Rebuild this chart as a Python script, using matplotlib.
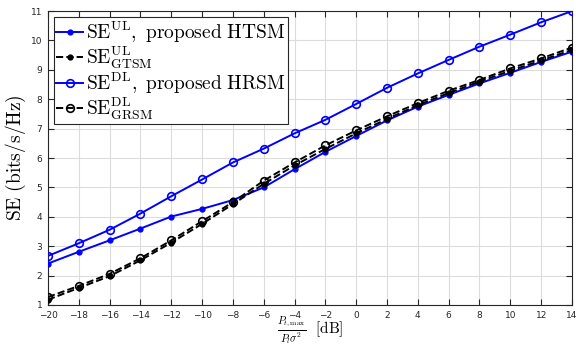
import matplotlib
matplotlib.use("Agg")
import matplotlib.pyplot as plt

x_db = [-20, -18, -16, -14, -12, -10, -8, -6, -4, -2, 0, 2, 4, 6, 8, 10, 12, 14]
se_ul_htsm = [2.41, 2.81, 3.20, 3.60, 4.01, 4.27, 4.57, 5.00, 5.62, 6.21, 6.75, 7.28, 7.75, 8.15, 8.54, 8.90, 9.27, 9.62]
se_ul_gtsm = [1.18, 1.58, 1.98, 2.52, 3.12, 3.76, 4.43, 5.12, 5.75, 6.31, 6.84, 7.33, 7.80, 8.21, 8.60, 8.97, 9.32, 9.68]
se_dl_hrsm = [2.67, 3.10, 3.56, 4.11, 4.70, 5.27, 5.85, 6.32, 6.84, 7.30, 7.84, 8.39, 8.88, 9.34, 9.79, 10.20, 10.62, 11.0]
se_dl_grsm = [1.27, 1.65, 2.06, 2.59, 3.20, 3.85, 4.50, 5.23, 5.85, 6.43, 6.94, 7.42, 7.87, 8.29, 8.66, 9.05, 9.39, 9.76]

labels = [r'$\mathrm{SE}^{\mathrm{UL}}\mathrm{,\ proposed\ HTSM}$',
          r'$\mathrm{SE}^{\mathrm{UL}}_{\mathrm{GTSM}}$',
          r'$\mathrm{SE}^{\mathrm{DL}}\mathrm{,\ proposed\ HRSM}$',
          r'$\mathrm{SE}^{\mathrm{DL}}_{\mathrm{GRSM}}$']

plt.rcParams['mathtext.fontset'] = 'cm'

fig = plt.figure(figsize=(5.76, 3.48), dpi=100)
ax = fig.add_axes([0.0833, 0.1236, 0.9097, 0.8445])

ax.plot(x_db, se_ul_htsm, '-', color='#0000ff', lw=1.4, marker='o', ms=3.5, mfc='#0000ff', mec='#0000ff', label=labels[0], zorder=3)
ax.plot(x_db, se_ul_gtsm, '--', color='black', lw=1.4, marker='o', ms=3.5, mfc='black', mec='black', label=labels[1], zorder=3)
ax.plot(x_db, se_dl_hrsm, '-', color='#0000ff', lw=1.4, marker='o', ms=5.5, mfc='none', mec='#0000ff', mew=1.2, label=labels[2], zorder=3)
ax.plot(x_db, se_dl_grsm, '--', color='black', lw=1.4, marker='o', ms=5.5, mfc='none', mec='black', mew=1.2, label=labels[3], zorder=3)

ax.set_xlim(-20, 14)
ax.set_ylim(1, 11)
ax.set_xticks(list(range(-20, 15, 2)))
ax.set_yticks(list(range(1, 12)))
ax.grid(True, color='#dcdcdc', lw=0.8)
ax.set_axisbelow(True)
ax.tick_params(direction='in', top=True, right=True, labelsize=6.5, colors='#262626', length=4, width=0.8, pad=4)
for s in ax.spines.values():
    s.set_color('#262626')
    s.set_linewidth(0.8)

ax.set_ylabel(r'$\mathrm{SE\ (bits/s/Hz)}$', fontsize=14, labelpad=2)
fig.text(0.538, 0.004, r'$\frac{P_{t,\max}}{P_l\sigma^2}\ \ [\mathrm{dB}]$', fontsize=11,
         ha='center', va='bottom')

leg = ax.legend(loc='upper left', fontsize=14, handlelength=1.4, handletextpad=0.15,
                borderpad=0.12, labelspacing=0.0, borderaxespad=0.3, fancybox=False,
                framealpha=1, edgecolor='#262626')
leg.get_frame().set_linewidth(0.8)

fig.savefig('out.png', dpi=100)
